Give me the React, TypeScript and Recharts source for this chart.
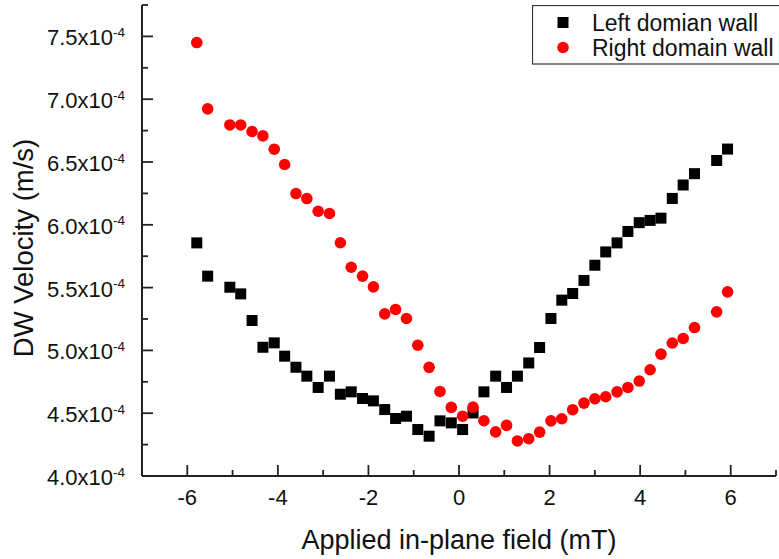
import React from 'react';
import { ScatterChart, Scatter, XAxis, YAxis, Legend, Label } from 'recharts';

// Applied in-plane field (mT)
const fieldMT = [
  -5.79, -5.55, -5.06, -4.82, -4.57, -4.33, -4.08, -3.85, -3.6, -3.36, -3.11, -2.86,
  -2.62, -2.38, -2.13, -1.89, -1.64, -1.4, -1.16, -0.91, -0.66, -0.42, -0.17, 0.08,
  0.31, 0.55, 0.81, 1.05, 1.29, 1.54, 1.78, 2.03, 2.27, 2.51, 2.76, 3.0, 3.24, 3.49,
  3.73, 3.98, 4.22, 4.46, 4.71, 4.95, 5.2, 5.69, 5.93,
];

// DW velocity, in units of 1e-4 m/s
const leftWallVelocity = [
  5.856, 5.591, 5.503, 5.45, 5.238, 5.025, 5.06, 4.954, 4.866, 4.795, 4.705, 4.795,
  4.651, 4.67, 4.617, 4.598, 4.529, 4.458, 4.476, 4.37, 4.317, 4.439, 4.423, 4.37,
  4.502, 4.67, 4.795, 4.705, 4.795, 4.9, 5.023, 5.254, 5.4, 5.453, 5.557, 5.678,
  5.784, 5.856, 5.947, 6.017, 6.035, 6.053, 6.21, 6.317, 6.407, 6.512, 6.603,
];

const rightWallVelocity = [
  7.451, 6.923, 6.795, 6.795, 6.743, 6.708, 6.602, 6.48, 6.249, 6.209, 6.108, 6.09,
  5.857, 5.662, 5.591, 5.506, 5.291, 5.326, 5.254, 5.041, 4.865, 4.673, 4.546, 4.476,
  4.548, 4.44, 4.351, 4.403, 4.279, 4.297, 4.349, 4.439, 4.456, 4.528, 4.58, 4.615,
  4.631, 4.67, 4.705, 4.756, 4.846, 4.97, 5.059, 5.095, 5.182, 5.307, 5.466,
];

const seriesNames = ['Left domian wall', 'Right domain wall'];
const seriesColors = ['#000000', '#ff0000'];

const xTicks = [-7, -6, -5, -4, -3, -2, -1, 0, 1, 2, 3, 4, 5, 6, 7];
const yTicks = [4.0, 4.25, 4.5, 4.75, 5.0, 5.25, 5.5, 5.75, 6.0, 6.25, 6.5, 6.75, 7.0, 7.25, 7.5, 7.75];

const xTitle = 'Applied in-plane field (mT)';
const yTitle = 'DW Velocity (m/s)';

const leftData = fieldMT.map((x, i) => ({ x, y: leftWallVelocity[i] }));
const rightData = fieldMT.map((x, i) => ({ x, y: rightWallVelocity[i] }));

const FONT = '"Liberation Sans", Arial, Helvetica, sans-serif';
const AXIS_COLOR = '#222';
const axisLineStyle = { stroke: AXIS_COLOR, strokeWidth: 2 };
const MAJOR = 11;
const MINOR = 6;

const isMajorX = (v: number) => Math.round(v) % 2 === 0;
const isMajorY = (v: number) => Math.round(v * 4) % 2 === 0;

const BottomTick = (props: any) => {
  const { x, y, payload } = props;
  const v = payload.value;
  const major = isMajorX(v);
  return (
    <g>
      <line x1={x} x2={x} y1={y} y2={y - (major ? MAJOR : MINOR)} stroke={AXIS_COLOR} strokeWidth={1.8} />
      {major && (
        <text x={x} y={y + 29} textAnchor="middle" fontSize={22} fontFamily={FONT} fill="#111">
          {String(v)}
        </text>
      )}
    </g>
  );
};

const TopTick = (props: any) => {
  const { x, y, payload } = props;
  const major = isMajorX(payload.value);
  return <line x1={x} x2={x} y1={y} y2={y + (major ? MAJOR : MINOR)} stroke={AXIS_COLOR} strokeWidth={1.8} />;
};

const LeftTick = (props: any) => {
  const { x, y, payload } = props;
  const v = payload.value;
  const major = isMajorY(v);
  return (
    <g>
      <line x1={x} x2={x + (major ? MAJOR : MINOR)} y1={y} y2={y} stroke={AXIS_COLOR} strokeWidth={1.8} />
      {major && (
        <text x={x - 17} y={y + 9} textAnchor="end" fontSize={22} fontFamily={FONT} fill="#111">
          {v.toFixed(1) + 'x10'}
          <tspan dy={-8.5} fontSize={13.5}>-4</tspan>
        </text>
      )}
    </g>
  );
};

const RightTick = (props: any) => {
  const { x, y, payload } = props;
  const major = isMajorY(payload.value);
  return <line x1={x} x2={x - (major ? MAJOR : MINOR)} y1={y} y2={y} stroke={AXIS_COLOR} strokeWidth={1.8} />;
};

const squareShape = (p: any) => (
  <rect x={p.cx - 5.5} y={p.cy - 5.5} width={11} height={11} fill={seriesColors[0]} />
);
const circleShape = (p: any) => <circle cx={p.cx} cy={p.cy} r={5.8} fill={seriesColors[1]} />;

const renderLegend = (props: any) => {
  const payload = props.payload || [];
  return (
    <svg width={260} height={60} style={{ display: 'block' }}>
      <rect x={0.5} y={0.5} width={258} height={58.5} fill="#fff" stroke="#333" strokeWidth={1.2} />
      {payload.map((entry: any, i: number) => {
        const cy = i === 0 ? 17.5 : 42.5;
        return (
          <g key={i}>
            {i === 0 ? (
              <rect x={31 - 5.5} y={cy - 5.5} width={11} height={11} fill={seriesColors[0]} />
            ) : (
              <circle cx={31} cy={cy} r={5.8} fill={seriesColors[1]} />
            )}
            <text x={60} y={cy + 8} fontSize={23} fontFamily={FONT} fill="#111">
              {entry.value}
            </text>
          </g>
        );
      })}
    </svg>
  );
};

export default function App() {
  return (
    <div
      style={{
        position: 'fixed',
        left: 0,
        top: 0,
        width: 779,
        height: 559,
        overflow: 'hidden',
        background: '#fff',
      }}
    >
      <ScatterChart width={800} height={559} margin={{ top: 5, right: 24, bottom: 23, left: 0 }}>
        <XAxis
          xAxisId="b"
          type="number"
          dataKey="x"
          domain={[-7, 7]}
          ticks={xTicks}
          interval={0}
          tickSize={0}
          tickMargin={0}
          tickLine={false}
          axisLine={axisLineStyle}
          tick={BottomTick}
          height={60}
          allowDataOverflow
        >
          <Label
            content={() => (
              <text x={459} y={548.5} textAnchor="middle" fontSize={27} fontFamily={FONT} fill="#111">
                {xTitle}
              </text>
            )}
          />
        </XAxis>
        <XAxis
          xAxisId="t"
          orientation="top"
          type="number"
          dataKey="x"
          domain={[-7, 7]}
          ticks={xTicks}
          interval={0}
          tickSize={0}
          tickMargin={0}
          tickLine={false}
          axisLine={axisLineStyle}
          tick={TopTick}
          height={0}
          allowDataOverflow
        />
        <YAxis
          yAxisId="l"
          type="number"
          dataKey="y"
          domain={[4, 7.75]}
          ticks={yTicks}
          interval={0}
          tickSize={0}
          tickMargin={0}
          tickLine={false}
          axisLine={axisLineStyle}
          tick={LeftTick}
          width={142}
          allowDataOverflow
        >
          <Label
            content={() => (
              <text
                x={32.5}
                y={248}
                transform="rotate(-90 32.5 248)"
                textAnchor="middle"
                fontSize={27.5}
                fontFamily={FONT}
                fill="#111"
              >
                {yTitle}
              </text>
            )}
          />
        </YAxis>
        <YAxis
          yAxisId="r"
          orientation="right"
          type="number"
          dataKey="y"
          domain={[4, 7.75]}
          ticks={yTicks}
          interval={0}
          tickSize={0}
          tickMargin={0}
          tickLine={false}
          axisLine={axisLineStyle}
          tick={RightTick}
          width={0}
          allowDataOverflow
        />
        <Legend
          layout="horizontal"
          verticalAlign="middle"
          align="center"
          width={260}
          height={60}
          wrapperStyle={{ left: 532, top: 5, margin: 0, padding: 0 }}
          content={renderLegend}
        />
        <Scatter
          xAxisId="b"
          yAxisId="l"
          name={seriesNames[0]}
          data={leftData}
          fill={seriesColors[0]}
          legendType="square"
          shape={squareShape}
          isAnimationActive={false}
        />
        <Scatter
          xAxisId="b"
          yAxisId="l"
          name={seriesNames[1]}
          data={rightData}
          fill={seriesColors[1]}
          legendType="circle"
          shape={circleShape}
          isAnimationActive={false}
        />
      </ScatterChart>
    </div>
  );
}
